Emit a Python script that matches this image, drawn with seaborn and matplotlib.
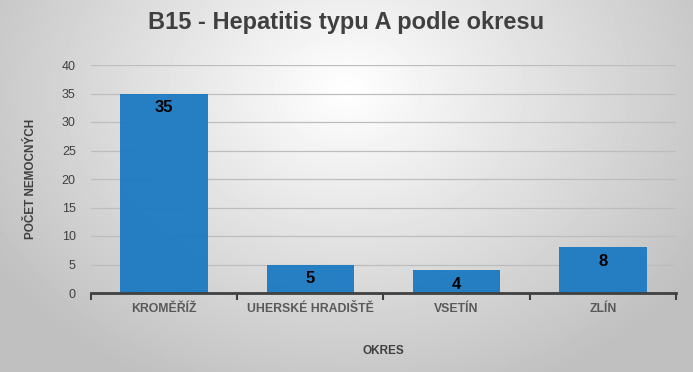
import numpy as np
import pandas as pd
import matplotlib.pyplot as plt
import seaborn as sns

# data
okresy = ["KROMĚŘÍŽ", "UHERSKÉ HRADIŠTĚ", "VSETÍN", "ZLÍN"]
pocty = [35, 5, 4, 8]

df = pd.DataFrame({"okres": okresy, "pocet": pocty})

sns.set_theme(style="white")
plt.rcParams["font.family"] = ["Liberation Sans", "DejaVu Sans"]

fig = plt.figure(figsize=(6.93, 3.72), dpi=100)

# radial gradient background
bg = fig.add_axes([0, 0, 1, 1], zorder=-1)
yy, xx = np.mgrid[0:372, 0:693]
r = np.sqrt(((xx - 346) / 420.0) ** 2 + ((yy - 90) / 330.0) ** 2)
shade = np.clip(1.0 - 0.25 * r, 0.75, 1.0)
bg.imshow(shade, cmap="gray", vmin=0, vmax=1, aspect="auto", extent=[0, 1, 0, 1])
bg.axis("off")

L, R, T, B = 91, 676, 65, 293
ax = fig.add_axes([L / 693, 1 - B / 372, (R - L) / 693, (B - T) / 372])
ax.patch.set_alpha(0)

sns.barplot(data=df, x="okres", y="pocet", color="#1F7BC2", width=0.6,
            saturation=1, linewidth=0, ax=ax, zorder=2)
for p in ax.patches:
    p.set_alpha(0.96)

ax.set_ylim(0, 40)
ax.set_xlim(-0.5, 3.5)
ax.set_yticks(range(0, 41, 5))
ax.yaxis.grid(True, color="#bdbdbd", linewidth=0.9, zorder=1)
ax.set_axisbelow(True)

for s in ["top", "right", "left"]:
    ax.spines[s].set_visible(False)
ax.spines["bottom"].set_color("#404040")
ax.spines["bottom"].set_linewidth(2)

# category boundary ticks
ax.set_xticks([-0.5, 0.5, 1.5, 2.5, 3.5], minor=False)
ax.set_xticklabels([])
ax.set_xticks([0, 1, 2, 3], minor=True)
ax.set_xticklabels(okresy, minor=True, fontsize=8.8, fontweight="bold", color="#595959")
ax.tick_params(axis="x", which="major", length=5, width=1.5, color="#404040", direction="out", bottom=True)
ax.tick_params(axis="x", which="minor", length=0, pad=7)
ax.tick_params(axis="y", length=0, labelsize=9, labelcolor="#404040", pad=11)

for i, v in enumerate(pocty):
    ax.text(i, v - 1.2, str(v), ha="center", va="top", fontsize=12,
            fontweight="bold", color="black", zorder=3)

ax.set_xlabel("OKRES", fontsize=8.5, fontweight="bold", color="#404040")
ax.xaxis.set_label_coords(0.5, (B - 345) / (B - T))
ax.set_ylabel("POČET NEMOCNÝCH", fontsize=8.5, fontweight="bold", color="#404040")
ax.yaxis.set_label_coords((37 - L) / (R - L), 0.5)

fig.text(0.5, 1 - 22 / 372, "B15 - Hepatitis typu A podle okresu", ha="center", va="center",
         fontsize=17, fontweight="bold", color="#404040")

fig.savefig("out.png", dpi=100)
